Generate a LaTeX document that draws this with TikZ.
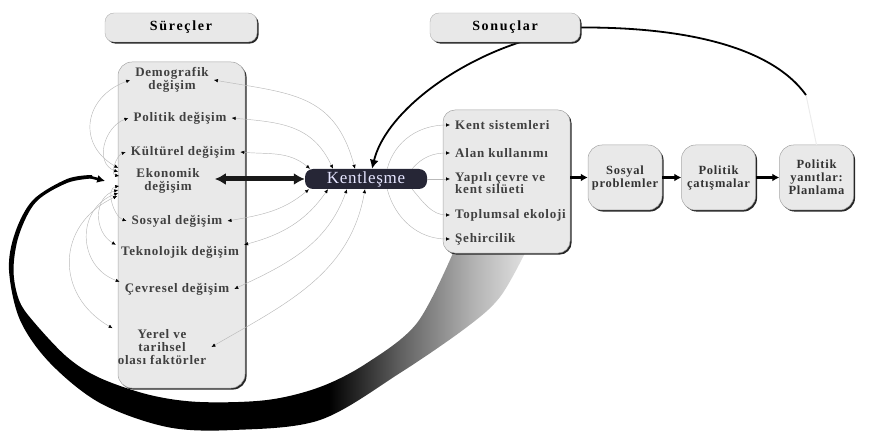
\documentclass[tikz,border=0pt]{standalone}
\usepackage{fontspec}
\setmainfont{Liberation Serif}
\newfontfamily\itemfont[LetterSpace=6]{Liberation Serif}
\newfontfamily\hdrfont[LetterSpace=12]{Liberation Serif}
\newfontfamily\kentfont[LetterSpace=4]{Liberation Serif}
\usetikzlibrary{arrows.meta,shadows,backgrounds}
\pgfdeclarelayer{front}
\pgfsetlayers{background,main,front}
\definecolor{kentfill}{RGB}{38,38,54}
\pgfdeclarehorizontalshading{sweepshade}{100bp}{color(0bp)=(black); color(25bp)=(black);
  color(56bp)=(black); color(63bp)=(black!62); color(70bp)=(black!30); color(75bp)=(black!12);
  color(100bp)=(black!12)}

\begin{document}
\begin{tikzpicture}[x=1pt,y=1pt,
  boxshadow/.style={drop shadow={shadow xshift=1.6pt,shadow yshift=-1.6pt,fill=black!85,opacity=1}},
  bigbox/.style={draw=gray!70,line width=0.5pt,fill=gray!17,rounded corners=14pt,boxshadow},
  hdrbox/.style={draw=gray!60,fill=gray!18,rounded corners=9pt,minimum height=29pt,boxshadow,
    font=\hdrfont\fontsize{14}{16}\selectfont\bfseries},
  resultbox/.style={bigbox,minimum width=74pt,minimum height=65pt,align=center,inner sep=1pt,
    text=black!80,font=\itemfont\fontsize{12.5}{13}\selectfont\bfseries},
  itemtxt/.style={align=center,inner xsep=5pt,inner ysep=1pt,text=black!75,
    font=\itemfont\fontsize{13}{13}\selectfont\bfseries},
  linkline/.style={draw=gray!55,line width=0.45pt,
    {Latex[length=4pt,width=3.5pt,color=black]}-{Latex[length=4pt,width=3.5pt,color=black]}},
  rlink/.style={draw=gray!55,line width=0.45pt,-{Latex[length=4pt,width=3.5pt,color=black]}},
  flowarrow/.style={draw=black,line width=2.4pt,-{Latex[length=7pt,width=8pt]}},
  bigcurve/.style={draw=black,line width=1.8pt,-{Latex[length=9pt,width=9pt]}}
]
\useasboundingbox (0,0) rectangle (875,445);

%headers
\begin{pgfonlayer}{front}
\node[hdrbox,minimum width=152pt] (surecler) at (181,417.5) {Süreçler};
\node[hdrbox,minimum width=150pt] (sonuclar) at (505,417.5) {Sonuçlar};
\end{pgfonlayer}

%big sweep back to Ekonomik
\begin{pgfonlayer}{background}
\shade[shading=sweepshade]
  plot[smooth,tension=0.55] coordinates {(525,192) (500,148) (467,118) (400,72) (320,25) (233,15)
    (167,18) (100,42) (50,82) (20,125) (9,175) (15,212) (33,245) (67,266) (92,270)}
  -- plot[smooth,tension=0.55] coordinates {(92,266.5) (67,262) (36,243) (19,210) (13.5,175) (19,145)
    (33,124) (67,88) (100,67) (150,50) (200,43) (267,45) (320,58) (367,82) (417,122) (453,192)}
  -- cycle;
\end{pgfonlayer}

%boxes
\node[bigbox,minimum width=127pt,minimum height=326pt] (leftbox) at (181.5,220) {};
\node[bigbox,minimum width=127pt,minimum height=143pt,rounded corners=12pt] (rightbox) at (506.5,263.5) {};
\node[resultbox] (sp) at (625,267.5) {Sosyal\\problemler};
\node[resultbox] (pc) at (718.5,267.5) {Politik\\çatışmalar};
\node[resultbox] (py) at (816.5,267.5) {Politik\\yanıtlar:\\Planlama};
\node[fill=kentfill,rounded corners=8pt,minimum width=122pt,minimum height=20pt,
  inner sep=0pt,text=white!90!blue,font=\kentfont\fontsize{17}{18}\selectfont] (kent) at (366,266) {Kentleşme};

%left items
\node[itemtxt] (demo) at (172,365) {Demografik\\değişim};
\node[itemtxt] (pol) at (180,327) {Politik değişim};
\node[itemtxt] (kul) at (183,293) {Kültürel değişim};
\node[itemtxt] (eko) at (168,264) {Ekonomik\\değişim};
\node[itemtxt] (sos) at (177,224) {Sosyal değişim};
\node[itemtxt] (tek) at (180,193) {Teknolojik değişim};
\node[itemtxt] (cev) at (177,156) {Çevresel değişim};
\node[itemtxt] (yer) at (162,98) {Yerel ve\\tarihsel\\olası faktörler};

%right items
\node[itemtxt,anchor=west,align=left] (ks) at (450,320) {Kent sistemleri};
\node[itemtxt,anchor=west,align=left] (ak) at (450,292) {Alan kullanımı};
\node[itemtxt,anchor=west,align=left,font=\itemfont\fontsize{13}{10}\selectfont\bfseries] (yc) at (450,262) {Yapılı çevre ve\\ kent silüeti};
\node[itemtxt,anchor=west,align=left] (te) at (450,230) {Toplumsal ekoloji};
\node[itemtxt,anchor=west,align=left] (se) at (450,206) {Şehircilik};

%Ekonomik - Kentlesme
\draw[line width=5pt,draw=black!90,{Latex[length=11pt,width=12pt]}-{Latex[length=11pt,width=12pt]},
  shorten <=10pt] (eko.east |- kent.west) -- (kent.west);

%Kentlesme - left items
\draw[linkline] ([xshift=-11pt]kent.north) to[out=105,in=-10,looseness=1.2] (demo.east);
\draw[linkline] ([xshift=-33pt]kent.north) to[out=115,in=-5,looseness=1.1] (pol.east);
\draw[linkline] ([xshift=-56pt]kent.north) to[out=140,in=-5] (kul.east);
\draw[linkline] ([xshift=-57pt]kent.south) to[out=-140,in=10] (sos.east);
\draw[linkline] ([xshift=-38pt]kent.south) to[out=-125,in=15] (tek.north east);
\draw[linkline] ([xshift=-19pt]kent.south) to[out=-110,in=25] (cev.east);
\draw[linkline] ([xshift=-1pt]kent.south) to[out=-100,in=30] (yer.east);

%Ekonomik - other items
\draw[linkline] ([xshift=-13pt,yshift=13pt]eko.west) to[out=150,in=200,looseness=1.4] (demo.west);
\draw[linkline] ([xshift=-13pt,yshift=9pt]eko.west) to[out=160,in=200,looseness=1.2] (pol.west);
\draw[linkline] ([xshift=-12pt,yshift=5pt]eko.west) to[out=170,in=200] (kul.west);
\draw[linkline] ([xshift=-12pt,yshift=-5pt]eko.west) to[out=190,in=160] (sos.west);
\draw[linkline] ([xshift=-13pt,yshift=-9pt]eko.west) to[out=195,in=150,looseness=1.2] (tek.north west);
\draw[linkline] ([xshift=-13pt,yshift=-12pt]eko.west) to[out=200,in=160,looseness=1.3] (cev.north west);
\draw[linkline] ([xshift=-14pt,yshift=-15pt]eko.west) to[out=205,in=150,looseness=1.3] (yer.north west);
\draw[line width=2.6pt,-{Latex[length=8pt,width=8pt]}] (90,268) -- ([xshift=-26pt]eko.west);

%Kentlesme - right items
\draw[rlink] ([xshift=-40pt]kent.north east) to[out=75,in=180] (ks.west);
\draw[rlink] ([xshift=-15pt]kent.north east) to[out=50,in=180] (ak.west);
\draw[rlink] (kent.east) -- ([yshift=4pt]yc.west);
\draw[rlink] ([xshift=-15pt]kent.south east) to[out=-50,in=180] (te.west);
\draw[rlink] ([xshift=-40pt]kent.south east) to[out=-75,in=180] (se.west);

%results
\draw[flowarrow] (rightbox.east |- sp.west) -- (sp.west);
\draw[flowarrow] (sp) -- (pc);
\draw[flowarrow] (pc) -- (py);

%feedback to Kentlesme
\draw[draw=gray!15,line width=1pt] (py.north) -- (806,350);
\draw[bigcurve] (806,350) .. controls (770,400) and (680,418) .. (sonuclar.east)
  -- ([xshift=15pt]sonuclar.south) .. controls (450,380) and (385,330) .. ([xshift=6pt]kent.north);
\end{tikzpicture}
\end{document}
